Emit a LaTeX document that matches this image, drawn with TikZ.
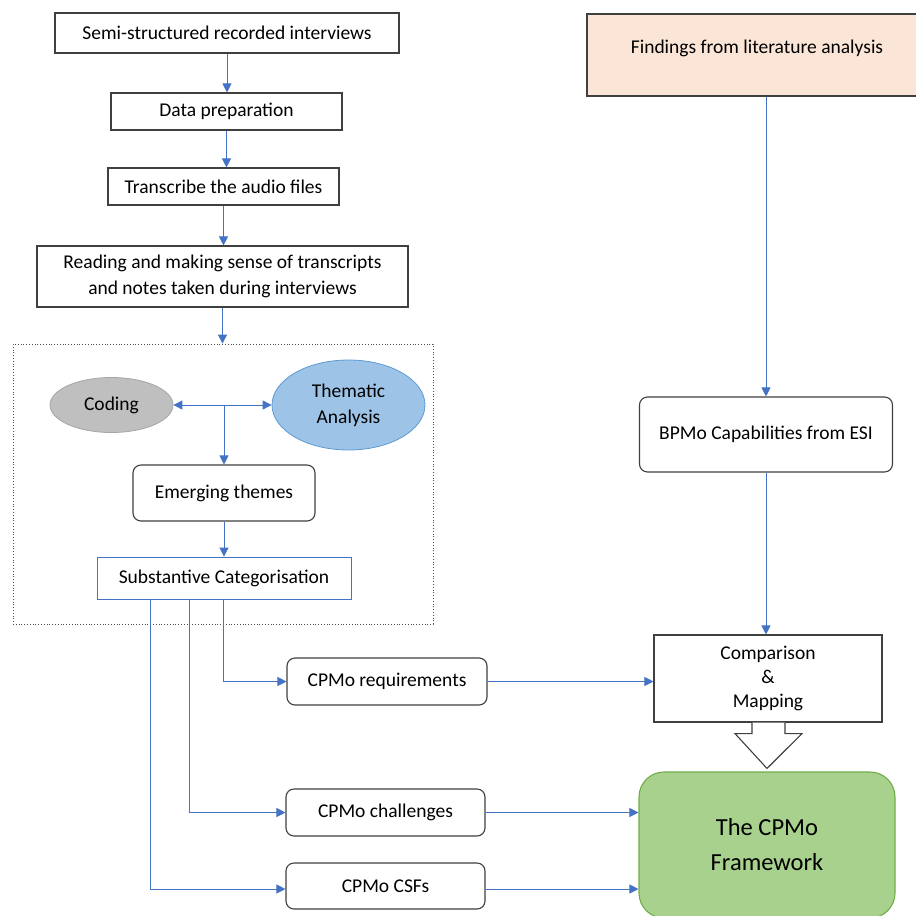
\documentclass[tikz,border=0pt]{standalone}
\usepackage{fontspec}
\setmainfont{Carlito}
\usetikzlibrary{arrows.meta, positioning, shapes.geometric, calc}
\definecolor{myblue}{RGB}{68,114,196}
\definecolor{myline}{RGB}{64,64,64}
\definecolor{mygray}{RGB}{191,191,191}
\definecolor{mygrayedge}{RGB}{166,166,166}
\definecolor{lightblue}{RGB}{157,195,230}
\definecolor{blueedge}{RGB}{91,155,213}
\definecolor{mygreen}{RGB}{169,209,142}
\definecolor{greenedge}{RGB}{112,173,71}
\definecolor{mypeach}{RGB}{251,229,214}
\tikzset{
    stepbox/.style={draw=myline, line width=1.1pt, inner sep=0pt, align=center},
    roundbox/.style={stepbox, rounded corners=8pt},
    arr/.style={-{Triangle[length=9pt,width=9pt]}, myblue, line width=0.9pt},
    bodytext/.style={font=\fontsize{19.5}{26}\selectfont},
}
\begin{document}
\begin{tikzpicture}[x=1pt, y=-1pt, bodytext]
    \useasboundingbox[fill=white] (0,0) rectangle (916,916);

    % Interview branch (left column)
    \node[stepbox, minimum width=344pt, minimum height=40pt] (intv) at (227,33) {Semi-structured recorded interviews};
    \node[stepbox, minimum width=231pt, minimum height=37pt] (prep) at (226.5,111.5) {Data preparation};
    \node[stepbox, minimum width=231pt, minimum height=37pt] (trans) at (223.5,186.5) {Transcribe the audio files};
    \node[stepbox, minimum width=371pt, minimum height=61pt] (reading) at (222.5,276.5) {Reading and making sense of transcripts\\and notes taken during interviews};

    % Analysis stage (dotted frame)
    \node[draw=black!70, dotted, line width=0.8pt, minimum width=420pt, minimum height=280pt] (analysis) at (223,484) {};
    \node[ellipse, draw=mygrayedge, fill=mygray, line width=0.8pt, minimum width=123pt, minimum height=55pt] (coding) at (111.5,405) {Coding};
    \node[ellipse, draw=blueedge, fill=lightblue, line width=0.8pt, minimum width=153pt, minimum height=90pt, inner sep=0pt, align=center] (thematic) at (348.5,405) {Thematic\\Analysis};
    \node[roundbox, minimum width=182pt, minimum height=56pt] (emerge) at (224,493) {Emerging themes};
    \node[stepbox, draw=myblue, line width=0.9pt, minimum width=254pt, minimum height=42pt] (subcat) at (224,578) {Substantive Categorisation};

    % CPMo outputs
    \node[roundbox, minimum width=200pt, minimum height=47pt] (req) at (387,681.5) {CPMo requirements};
    \node[roundbox, minimum width=199pt, minimum height=47pt] (chal) at (385.5,812.5) {CPMo challenges};
    \node[roundbox, minimum width=199pt, minimum height=46pt] (csf) at (385.5,886) {CPMo CSFs};

    % Literature branch (right column)
    \node[stepbox, fill=mypeach, minimum width=340pt, text height=39pt, text depth=43pt] (findings) at (757,55) {Findings from literature analysis};
    \node[roundbox, minimum width=253pt, minimum height=75pt] (bpmo) at (766,434.5) {BPMo Capabilities from ESI};
    \node[stepbox, minimum width=228pt, minimum height=87pt, font=\fontsize{19.5}{24}\selectfont] (cmp) at (768,678.5) {Comparison\\\&\\Mapping};
    \node[stepbox, draw=greenedge, fill=mygreen, rounded corners=25pt, minimum width=256pt, minimum height=146pt, font=\fontsize{24.5}{35}\selectfont] (frame) at (767,845) {The CPMo\\Framework};

    % Hollow arrow into the framework
    \draw[myline, line width=1.1pt, fill=white]
        ($(cmp.south)+(-16,0)$) -- ++(0,11) -- ++(-17,0) -- ($(frame.north)+(0,-3)$)
        -- ($(cmp.south)+(34,11)$) -- ++(-17,0) -- ++(0,-11);

    % Arrows
    \draw[arr] (intv) -- (intv |- prep.north);
    \draw[arr] (prep) -- (prep |- trans.north);
    \draw[arr] (trans) -- (trans |- reading.north);
    \draw[arr] (reading) -- (reading |- analysis.north);
    \draw[arr, {Triangle[length=9pt,width=9pt]}-{Triangle[length=9pt,width=9pt]}] (coding) -- (thematic);
    \draw[arr] (emerge.north |- coding.east) -- (emerge.north);
    \draw[arr] (emerge) -- (subcat);
    \draw[arr] ([xshift=-1pt]subcat.south) |- (req.west);
    \draw[arr] ([xshift=-35pt]subcat.south) |- (chal.west);
    \draw[arr] ([xshift=-74pt]subcat.south) |- ([yshift=-3pt]csf.west);
    \draw[arr] (req.east) -- (req.east -| cmp.west);
    \draw[arr] (chal.east) -- (chal.east -| frame.west);
    \draw[arr] ([yshift=-3pt]csf.east) -- ([yshift=-3pt]csf.east -| frame.west);
    \draw[arr] (bpmo.north |- findings.south) -- (bpmo.north);
    \draw[arr] (bpmo.south) -- (bpmo.south |- cmp.north);
\end{tikzpicture}
\end{document}
